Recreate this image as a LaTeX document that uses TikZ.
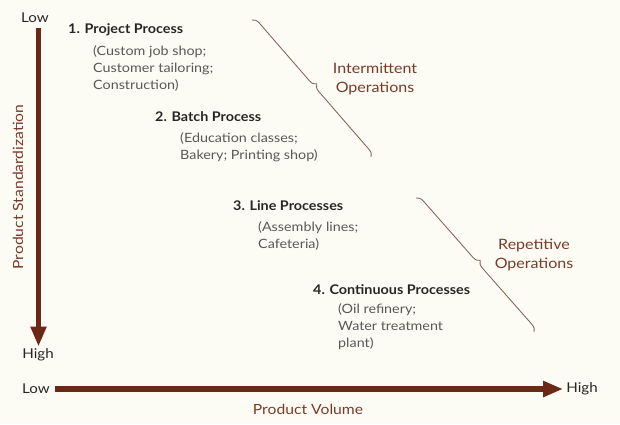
\documentclass[tikz,border=0pt]{standalone}
\usepackage{fontspec}
\setmainfont{Lato}
\newfontfamily\subfont[FakeStretch=1.12]{Lato}
\newfontfamily\headfont[FakeStretch=1.08]{Lato}
\usetikzlibrary{decorations.pathreplacing,arrows.meta}
\definecolor{bgc}{HTML}{FDFCF4}
\definecolor{axisc}{HTML}{6B2816}
\definecolor{lblc}{HTML}{7A3A2A}
\definecolor{subc}{HTML}{585858}
\definecolor{headc}{HTML}{262626}
\definecolor{bracec}{HTML}{806455}
\begin{document}
\begin{tikzpicture}[x=1pt,y=-1pt,
  headtxt/.style={anchor=west, inner sep=0pt, font=\headfont\fontsize{13.3}{15}\selectfont\bfseries, text=headc},
  subtxt/.style={anchor=north west, inner sep=0pt, align=left, font=\subfont\fontsize{12.8}{17}\selectfont, text=subc},
  endtxt/.style={inner sep=0pt, font=\subfont\fontsize{13.5}{15}\selectfont, text=headc},
  axislbl/.style={inner sep=0pt, font=\subfont\fontsize{14}{16}\selectfont, text=lblc},
  grouplbl/.style={inner sep=0pt, align=center, font=\subfont\fontsize{14.3}{18.5}\selectfont, text=lblc},
  axisline/.style={draw=axisc, line width=5.5pt, -{Triangle[length=20pt,width=15pt]}},
  bracestyle/.style={draw=bracec, line width=0.85pt, decorate, decoration={brace, amplitude=7pt, aspect=0.5}}]
\fill[bgc] (0,0) rectangle (620,424);
\useasboundingbox (0,0) rectangle (620,424);
% axes
\node[endtxt] (vlow) at (35,18) {Low};
\node[endtxt] (vhigh) at (38,355) {High};
\node[endtxt] (hlow) at (36,389) {Low};
\node[endtxt] (hhigh) at (582,389) {High};
\draw[axisline, shorten <=5pt, shorten >=2pt] (vlow.south -| 38.5,0) -- (vhigh.north -| 38.5,0);
\draw[axisline, shorten <=5pt, shorten >=3pt] (hlow.east) -- (hhigh.west);
\node[axislbl, rotate=90] (vlab) at (18,187) {Product Standardization};
\node[axislbl] (hlab) at (308,409) {Product Volume};
% processes
\node[headtxt] (p1) at (68,30) {1. Project Process};
\node[subtxt] (p1s) at (93,45) {(Custom job shop;\\Customer tailoring;\\Construction)};
\node[headtxt] (p2) at (155,117) {2. Batch Process};
\node[subtxt] (p2s) at (180,132) {(Education classes;\\Bakery; Printing shop)};
\node[headtxt] (p3) at (233,206) {3. Line Processes};
\node[subtxt] (p3s) at (258,221.5) {(Assembly lines;\\Cafeteria)};
\node[headtxt] (p4) at (313,290) {4. Continuous Processes};
\node[subtxt] (p4s) at (338,303.5) {(Oil refinery;\\Water treatment\\plant)};
% braces
\coordinate (b1s) at (252,20);
\coordinate (b1e) at (371,157);
\draw[bracestyle] (b1s) -- (b1e);
\node[grouplbl] (g1) at (375,79) {Intermittent\\Operations};
\coordinate (b2s) at (416,198);
\coordinate (b2e) at (534,332);
\draw[bracestyle] (b2s) -- (b2e);
\node[grouplbl] (g2) at (534,255) {Repetitive\\Operations};
\end{tikzpicture}
\end{document}
